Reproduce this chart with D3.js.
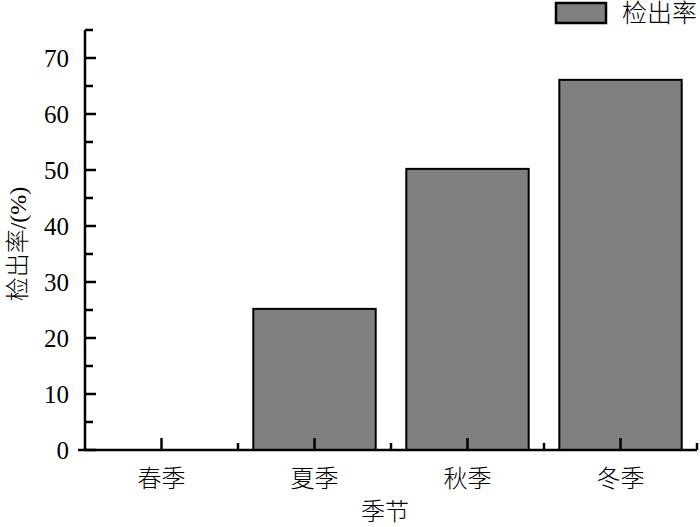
<!DOCTYPE html>
<html><head><meta charset="utf-8">
<script src="https://cdn.jsdelivr.net/npm/d3@7"></script>
<style>body{margin:0;background:#fff}svg{display:block}
.num{font-family:"Liberation Serif",Tinos,"Nimbus Roman","Nimbus Roman No9 L","FreeSerif","DejaVu Serif",serif}
.cjk{font-family:"Liberation Serif",Tinos,"Nimbus Roman","DejaVu Serif","Noto Sans CJK SC",serif;font-weight:300}
</style>
</head><body>
<script>
const categories = ["春季","夏季","秋季","冬季"];
const values = [0, 25.2, 50.2, 66.1];
const yTicks = [0,10,20,30,40,50,60,70];
const yMinor = [5,15,25,35,45,55,65,75];
const seriesName = "检出率";
const yTitle = "检出率/(%)";
const xTitle = "季节";

(function(){
const W=700,H=527;
const pLeft=85,pRight=697,pTop=30,pBottom=450;

const svg=d3.select("body").append("svg").attr("width",W).attr("height",H);
const xb=d3.scaleBand().domain(categories).range([pLeft,pRight]);
const y=d3.scaleLinear().domain([0,75]).range([pBottom,pTop]);

// bars
svg.append("g").selectAll("rect").data(categories).join("rect")
  .attr("x",d=>xb(d)+xb.bandwidth()*0.1)
  .attr("width",xb.bandwidth()*0.8)
  .attr("y",(d,i)=>y(values[i]))
  .attr("height",(d,i)=>y(0)-y(values[i]))
  .attr("fill","#808080").attr("stroke","#000").attr("stroke-width",2)
  .attr("display",(d,i)=>values[i]>0?null:"none");

// y axis
const gy=svg.append("g");
gy.append("line").attr("x1",pLeft).attr("x2",pLeft).attr("y1",y(75)).attr("y2",y(0)).attr("stroke","#000").attr("stroke-width",2.5);
gy.selectAll("line.maj").data(yTicks).join("line").attr("class","maj")
  .attr("x1",pLeft).attr("x2",pLeft+11).attr("y1",d=>y(d)).attr("y2",d=>y(d)).attr("stroke","#000").attr("stroke-width",2.5);
gy.selectAll("line.min").data(yMinor).join("line").attr("class","min")
  .attr("x1",pLeft).attr("x2",pLeft+8).attr("y1",d=>y(d)).attr("y2",d=>y(d)).attr("stroke","#000").attr("stroke-width",2.5);
gy.selectAll("text").data(yTicks).join("text").attr("class","num")
  .attr("x",69).attr("y",d=>y(d)).attr("dy","0.34em").attr("text-anchor","end")
  .attr("font-size",25).text(d=>d);

// x axis
const gx=svg.append("g");
gx.append("line").attr("x1",78).attr("x2",pRight).attr("y1",pBottom).attr("y2",pBottom).attr("stroke","#000").attr("stroke-width",2.5);
gx.selectAll("line.maj").data(categories).join("line").attr("class","maj")
  .attr("x1",d=>xb(d)+xb.bandwidth()/2).attr("x2",d=>xb(d)+xb.bandwidth()/2)
  .attr("y1",pBottom).attr("y2",pBottom-12).attr("stroke","#000").attr("stroke-width",2.5);
gx.selectAll("line.min").data(categories).join("line").attr("class","min")
  .attr("x1",d=>xb(d)+xb.bandwidth()).attr("x2",d=>xb(d)+xb.bandwidth())
  .attr("y1",pBottom).attr("y2",pBottom-7).attr("stroke","#000").attr("stroke-width",2.5);
gx.selectAll("text").data(categories).join("text").attr("class","cjk")
  .attr("x",d=>xb(d)+xb.bandwidth()/2).attr("y",487).attr("text-anchor","middle")
  .attr("font-size",24).text(d=>d);

// titles
svg.append("text").attr("class","cjk").attr("x",385).attr("y",520).attr("text-anchor","middle")
  .attr("font-size",24).text(xTitle);
svg.append("text").attr("class","cjk").attr("transform","translate(26,244) rotate(-90)").attr("text-anchor","middle")
  .attr("font-size",24).text(yTitle);

// legend
svg.append("rect").attr("x",556).attr("y",3).attr("width",50).attr("height",20)
  .attr("fill","#808080").attr("stroke","#000").attr("stroke-width",2.5);
svg.append("text").attr("class","cjk").attr("x",622).attr("y",22).attr("font-size",25).text(seriesName);
})();
</script>
</body></html>
